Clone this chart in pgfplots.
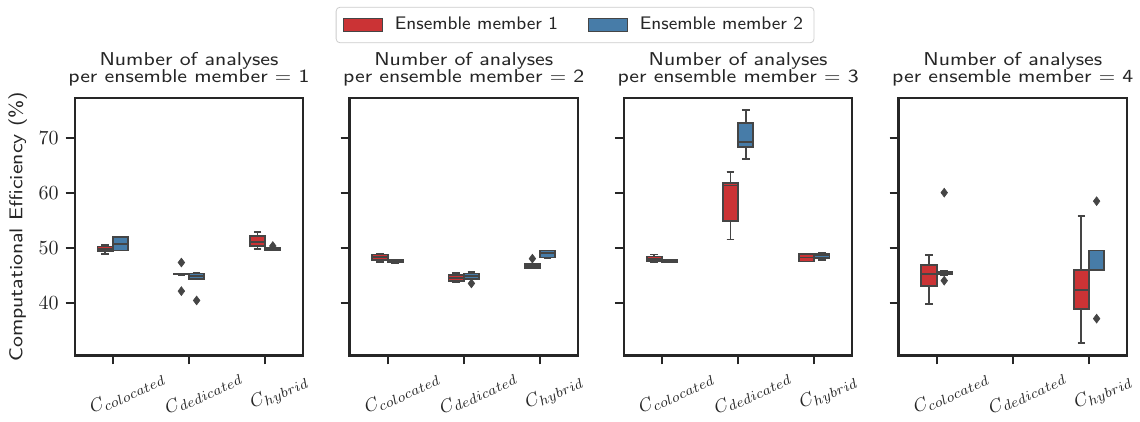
\documentclass[border=0pt]{standalone}
\usepackage{graphicx}
\usepackage{pgfplots}
\pgfplotsset{compat=1.18}
\usepgfplotslibrary{statistics}
\definecolor{cred}{HTML}{CB3335}
\definecolor{cblue}{HTML}{477CA8}
\definecolor{cgray}{HTML}{454545}
\definecolor{lgray}{HTML}{CCCCCC}
\newcommand{\sx}[1]{\scalebox{1.14}[1]{#1}}
\newcommand{\lx}[1]{\scalebox{1.03}[1]{#1}}

\pgfplotsset{
  every axis title/.style={at={(0.5,1)}, anchor=south, yshift=2.2pt, align=center,
    font=\sffamily\fontsize{9.3}{8.5}\selectfont, text=black!85},
  panel/.style={
    scale only axis, width=114.3pt, height=128.75pt, anchor=south west,
    xmin=-0.5, xmax=2.5, ymin=30.5, ymax=77.3,
    xtick={0,1,2},
    xticklabels={$C_{colocated}$,$C_{dedicated}$,$C_{hybrid}$},
    ytick={40,50,60,70},
    tick align=outside, tick pos=left, major tick length=4.5pt,
    every tick/.style={black!85, line width=1.05pt},
    axis line style={black!85, line width=1.05pt},
    tick label style={font=\fontsize{10.3}{12}\selectfont, text=black!85},
    xticklabel style={font=\fontsize{9.5}{12}\selectfont, rotate=25, anchor=center, yshift=-16pt, xshift=0.5pt},
    boxplot/draw direction=y,
  },
}
\newcommand{\bx}[7]{\addplot[forget plot, fill=#1, draw=cgray, line width=0.9pt,
   mark=diamond*, mark size=2.2pt, mark options={fill=cgray, draw=cgray, line width=0.3pt},
   boxplot prepared={draw position=#2, lower whisker=#3, lower quartile=#4, median=#5,
   upper quartile=#6, upper whisker=#7, box extend=0.2, whisker extend=0.1}]}

\begin{document}
\begin{tikzpicture}
% Panel 1
\begin{axis}[panel, at={(37.35pt,33.25pt)},
  title={\sx{Number of analyses}\\\sx{per ensemble member $=$ 1}},
  ylabel={\sx{Computational Efficiency (\%)}},
  ylabel style={font=\sffamily\fontsize{9.3}{11}\selectfont, text=black!85, yshift=-1pt},
  legend columns=2,
  legend style={at={(2.189,1.2835)}, anchor=center, draw=lgray, rounded corners=2pt,
    font=\sffamily\fontsize{9.1}{11}\selectfont, text=black!85, inner xsep=3.5pt, inner ysep=3pt,
    /tikz/every odd column/.append style={column sep=4pt},
    /tikz/every even column/.append style={column sep=13pt}},
]
\addlegendimage{legend image code/.code={\draw[sharp corners, fill=cred, draw=cgray, line width=0.4pt] (0pt,-3.3pt) rectangle (19.5pt,3.3pt);}}
\addlegendentry{\lx{Ensemble member 1}}
\addlegendimage{legend image code/.code={\draw[sharp corners, fill=cblue, draw=cgray, line width=0.4pt] (0pt,-3.3pt) rectangle (19.5pt,3.3pt);}}
\addlegendentry{\lx{Ensemble member 2}}
\bx{cred}{-0.1}{49.0}{49.5}{49.9}{50.3}{50.6} coordinates {};
\bx{cblue}{0.1}{49.6}{49.6}{50.8}{52.1}{52.1} coordinates {};
\bx{cred}{0.9}{45.2}{45.25}{45.3}{45.35}{45.4} table[row sep=\\,y index=0] {47.4\\42.2\\};
\bx{cblue}{1.1}{44.4}{44.45}{44.9}{45.4}{45.5} table[row sep=\\,y index=0] {40.5\\};
\bx{cred}{1.9}{49.9}{50.4}{51.1}{52.2}{52.9} coordinates {};
\bx{cblue}{2.1}{49.6}{49.65}{49.8}{50.0}{50.1} table[row sep=\\,y index=0] {50.4\\};
\end{axis}
% Panel 2
\begin{axis}[panel, at={(174.75pt,33.25pt)}, yticklabels={},
  title={\sx{Number of analyses}\\\sx{per ensemble member $=$ 2}}]
\bx{cred}{-0.1}{47.5}{47.8}{48.4}{48.85}{49.0} coordinates {};
\bx{cblue}{0.1}{47.35}{47.4}{47.6}{47.9}{47.95} coordinates {};
\bx{cred}{0.9}{43.8}{44.1}{44.6}{45.1}{45.45} coordinates {};
\bx{cblue}{1.1}{44.4}{44.4}{44.9}{45.4}{45.7} table[row sep=\\,y index=0] {43.6\\};
\bx{cred}{1.9}{46.3}{46.35}{46.7}{47.2}{47.2} table[row sep=\\,y index=0] {48.1\\};
\bx{cblue}{2.1}{48.25}{48.3}{49.1}{49.6}{49.6} coordinates {};
\end{axis}
% Panel 3
\begin{axis}[panel, at={(311.9pt,33.25pt)}, yticklabels={},
  title={\sx{Number of analyses}\\\sx{per ensemble member $=$ 3}}]
\bx{cred}{-0.1}{47.5}{47.7}{48.1}{48.5}{48.85} coordinates {};
\bx{cblue}{0.1}{47.4}{47.45}{47.65}{47.9}{47.95} coordinates {};
\bx{cred}{0.9}{51.6}{54.9}{61.4}{61.9}{63.9} coordinates {};
\bx{cblue}{1.1}{66.2}{68.4}{69.3}{72.8}{75.1} coordinates {};
\bx{cred}{1.9}{47.6}{47.6}{48.3}{48.9}{48.9} coordinates {};
\bx{cblue}{2.1}{47.9}{48.2}{48.7}{49.0}{49.15} coordinates {};
\end{axis}
% Panel 4
\begin{axis}[panel, at={(449.25pt,33.25pt)}, yticklabels={},
  title={\sx{Number of analyses}\\\sx{per ensemble member $=$ 4}}]
\bx{cred}{-0.1}{39.8}{43.2}{45.3}{47.0}{48.7} coordinates {};
\bx{cblue}{0.1}{45.2}{45.3}{45.5}{45.7}{45.8} table[row sep=\\,y index=0] {60.1\\44.1\\};
\bx{cred}{1.9}{32.7}{39.0}{42.4}{46.0}{55.8} coordinates {};
\bx{cblue}{2.1}{45.95}{45.95}{46.0}{49.6}{49.6} table[row sep=\\,y index=0] {58.55\\37.2\\};
\end{axis}
\pgfresetboundingbox
\path (0pt,0pt) rectangle (570pt,211pt);
\end{tikzpicture}
\end{document}
